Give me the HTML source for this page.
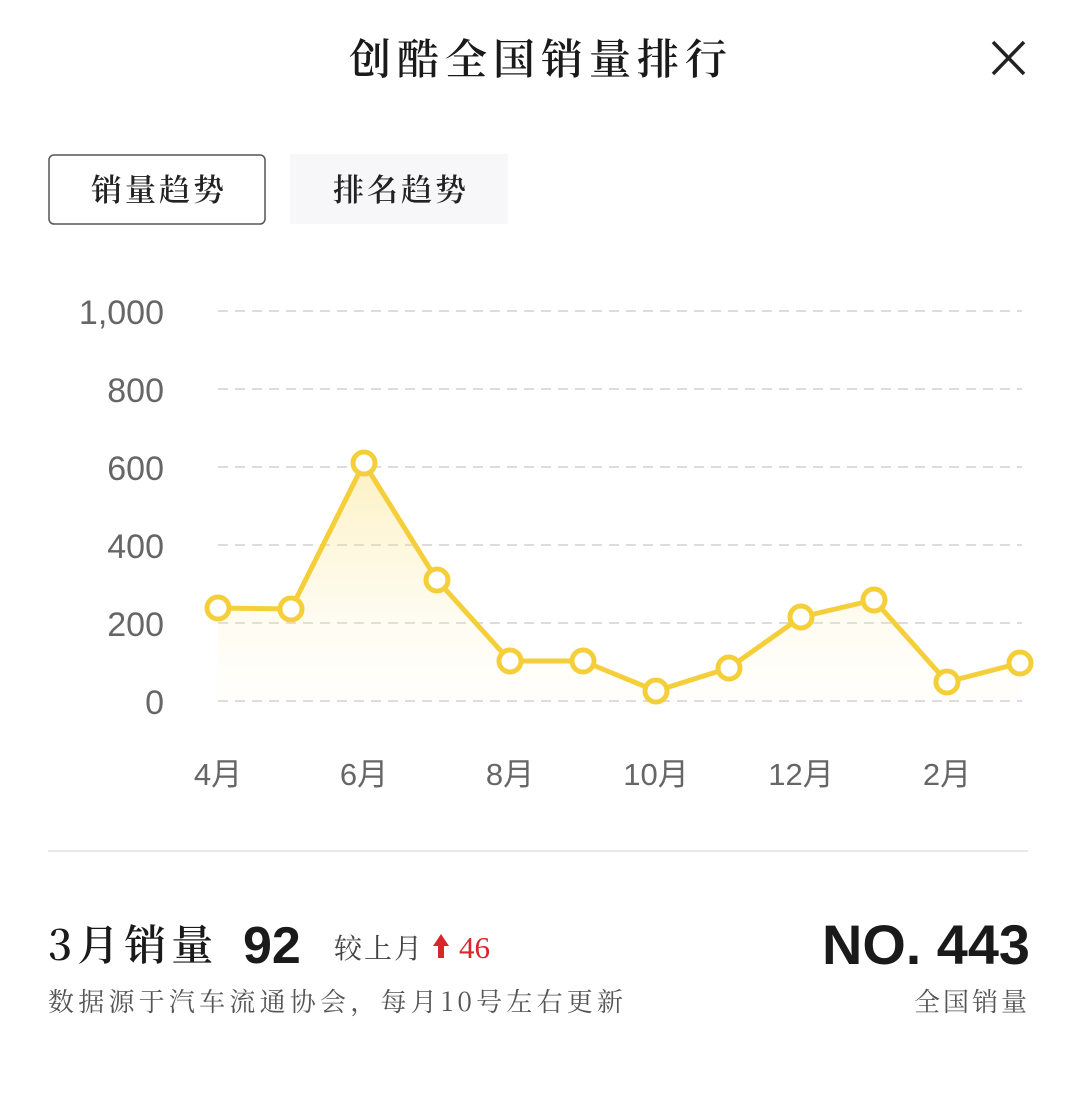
<!DOCTYPE html>
<html><head><meta charset="utf-8"><style>
body{margin:0;width:1079px;height:1110px;background:#fff;overflow:hidden;font-family:"Liberation Sans","Noto Sans CJK SC",sans-serif;}
</style></head><body>
<svg width="1079" height="1110" xmlns="http://www.w3.org/2000/svg">
<defs><linearGradient id="g" x1="0" y1="0" x2="0" y2="1">
<stop offset="0" stop-color="#f8d64e" stop-opacity="0.35"/><stop offset="1" stop-color="#fff8e0" stop-opacity="0.1"/></linearGradient></defs>
<text x="541" y="74" text-anchor="middle" font-size="42" fill="#1a1a1a" font-weight="600" font-family="Noto Serif CJK SC,serif" letter-spacing="6">创酷全国销量排行</text>
<path d="M993 42 L1024 74 M1024 42 L993 74" stroke="#222" stroke-width="3.5"/>
<rect x="49" y="155" width="216" height="69" rx="5" fill="#fff" stroke="#555" stroke-width="1.5"/>
<text x="159" y="201" text-anchor="middle" font-size="31" fill="#222" font-weight="600" font-family="Noto Serif CJK SC,serif" letter-spacing="3">销量趋势</text>
<rect x="290" y="154" width="218" height="70" fill="#f7f7fa"/>
<text x="401" y="201" text-anchor="middle" font-size="31" fill="#222" font-weight="600" font-family="Noto Serif CJK SC,serif" letter-spacing="3">排名趋势</text>
<g stroke="#dcdcdc" stroke-width="2" stroke-dasharray="10,7">
<line x1="218" y1="311" x2="1022" y2="311"/><line x1="218" y1="389" x2="1022" y2="389"/><line x1="218" y1="467" x2="1022" y2="467"/><line x1="218" y1="545" x2="1022" y2="545"/><line x1="218" y1="623" x2="1022" y2="623"/><line x1="218" y1="701" x2="1022" y2="701"/></g>
<g font-size="34" fill="#666" text-anchor="end">
<text x="164" y="324">1,000</text><text x="164" y="402">800</text><text x="164" y="480">600</text><text x="164" y="558">400</text><text x="164" y="636">200</text><text x="164" y="714">0</text></g>
<g font-size="31" fill="#666" text-anchor="middle">
<text x="218" y="785">4月</text><text x="364" y="785">6月</text><text x="510" y="785">8月</text><text x="656" y="785">10月</text><text x="801" y="785">12月</text><text x="947" y="785">2月</text></g>
<polygon fill="url(#g)" points="218,701 218,608 291,609 364,463 437,580 510,661 583,661 656,691 729,668 801,617 874,600 947,682 1020,663 1020,701"/>
<polyline fill="none" stroke="#f5cf3a" stroke-width="5" stroke-linejoin="round" points="218,608 291,609 364,463 437,580 510,661 583,661 656,691 729,668 801,617 874,600 947,682 1020,663"/>
<g fill="#fff" stroke="#f5cf3a" stroke-width="5">
<circle cx="218" cy="608" r="11"/><circle cx="291" cy="609" r="11"/><circle cx="364" cy="463" r="11"/><circle cx="437" cy="580" r="11"/><circle cx="510" cy="661" r="11"/><circle cx="583" cy="661" r="11"/><circle cx="656" cy="691" r="11"/><circle cx="729" cy="668" r="11"/><circle cx="801" cy="617" r="11"/><circle cx="874" cy="600" r="11"/><circle cx="947" cy="682" r="11"/><circle cx="1020" cy="663" r="11"/></g>
<line x1="48" y1="851" x2="1028" y2="851" stroke="#e8e8e8" stroke-width="2"/>
<text x="48" y="960" font-size="42" fill="#1a1a1a" font-weight="600" font-family="Noto Serif CJK SC,serif" letter-spacing="5">3月销量</text>
<text x="243" y="963" font-size="52" font-weight="bold" fill="#1a1a1a">92</text>
<text x="334" y="958" font-size="28" fill="#444" font-family="Noto Serif CJK SC,serif" letter-spacing="2">较上月</text>
<path d="M441 934 L449 946 L444 946 L444 958 L438 958 L438 946 L433 946 Z" fill="#d9262b"/>
<text x="459" y="958" font-size="31" fill="#d9262b" font-family="Liberation Serif,serif">46</text>
<text x="1030" y="964" text-anchor="end" font-size="56" font-weight="bold" fill="#1a1a1a" textLength="208" lengthAdjust="spacingAndGlyphs">NO. 443</text>
<text x="48" y="1011" font-size="26" fill="#555" font-family="Noto Serif CJK SC,serif" textLength="575" lengthAdjust="spacing">数据源于汽车流通协会，每月10号左右更新</text>
<text x="1030" y="1011" text-anchor="end" font-size="26" fill="#555" font-family="Noto Serif CJK SC,serif" letter-spacing="3">全国销量</text>
</svg>
</body></html>
